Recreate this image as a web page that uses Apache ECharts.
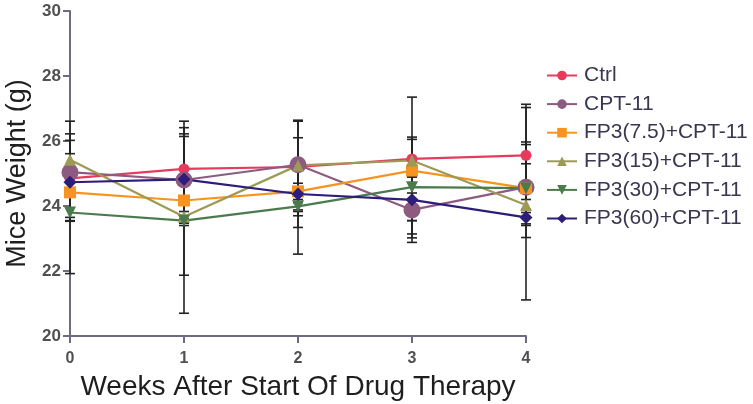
<!DOCTYPE html>
<html lang="en">
<head>
    <meta charset="UTF-8">
    <title>mice weight</title>
    <script src="https://cdn.jsdelivr.net/npm/echarts@6/dist/echarts.min.js"></script>
    <style>
        body{ margin:0; background:#fff; }
        .box{ width:753px; height:404px; }
    </style>
</head>
<body>
    <div class="box"></div>
    <script>
        var weeks = [0, 1, 2, 3, 4]
        var names = ['Ctrl', 'CPT-11', 'FP3(7.5)+CPT-11', 'FP3(15)+CPT-11', 'FP3(30)+CPT-11', 'FP3(60)+CPT-11']

        // mean weight per week
        var ctrl  = [24.85, 25.14, 25.20, 25.45, 25.56]
        var cpt   = [25.04, 24.80, 25.27, 23.88, 24.58]
        var fp7   = [24.42, 24.17, 24.45, 25.09, 24.55]
        var fp15  = [25.42, 23.67, 25.25, 25.40, 24.03]
        var fp30  = [23.80, 23.55, 23.99, 24.58, 24.55]
        var fp60  = [24.73, 24.82, 24.37, 24.19, 23.65]

        // error bar ends (low / high)
        var ctrlLo = [23.53, 23.47, 23.83, 23.55, 25.30]
        var ctrlHi = [26.22, 26.61, 26.61, 27.35, 27.13]
        var cptLo  = [23.65, 21.87, 23.70, 23.55, 21.11]
        var cptHi  = [26.61, 26.41, 26.64, 24.20, 27.03]
        var fp7Lo  = [21.92, 20.70, 22.52, 24.89, 23.03]
        var fp7Hi  = [26.02, 26.14, 24.70, 26.05, 25.97]
        var fp15Lo = [25.23, 23.50, 23.34, 23.02, 23.80]
        var fp15Hi = [25.61, 23.83, 26.10, 26.12, 24.20]
        var fp30Lo = [23.55, 23.40, 23.88, 23.14, 23.45]
        var fp30Hi = [24.29, 23.60, 24.10, 24.90, 25.89]
        var fp60Lo = [24.50, 23.55, 24.20, 22.88, 23.40]
        var fp60Hi = [24.95, 26.22, 24.50, 24.40, 23.90]

        var yTicks = [20, 22, 24, 26, 28, 30]

        var means = [ctrl, cpt, fp7, fp15, fp30, fp60]
        var lows = [ctrlLo, cptLo, fp7Lo, fp15Lo, fp30Lo, fp60Lo]
        var highs = [ctrlHi, cptHi, fp7Hi, fp15Hi, fp30Hi, fp60Hi]
        var colors = ['#e83a5c', '#8d5b80', '#f7941f', '#9c9a55', '#4b7a4c', '#2e1c7a']
        var symbols = ['circle', 'circle', 'rect', 'triangle', 'triangle', 'diamond']
        var sizes = [11, 17, 12, 12, 12, 13]
        var rotates = [0, 0, 0, 0, 180, 0]

        var errData = []
        for (var s = 0; s < means.length; s++) {
            for (var i = 0; i < weeks.length; i++) {
                errData.push([weeks[i], lows[s][i], highs[s][i]])
            }
        }

        var series = [{
            type: 'custom',
            z: 1,
            silent: true,
            data: errData,
            renderItem: function (params, api) {
                var top = api.coord([api.value(0), api.value(2)])
                var bot = api.coord([api.value(0), api.value(1)])
                var w = 5
                var st = { stroke: '#222', lineWidth: 1.6 }
                return {
                    type: 'group',
                    children: [
                        { type: 'line', shape: { x1: top[0], y1: top[1], x2: bot[0], y2: bot[1] }, style: st },
                        { type: 'line', shape: { x1: top[0] - w, y1: top[1], x2: top[0] + w, y2: top[1] }, style: st },
                        { type: 'line', shape: { x1: bot[0] - w, y1: bot[1], x2: bot[0] + w, y2: bot[1] }, style: st }
                    ]
                }
            }
        }]

        for (var k = 0; k < means.length; k++) {
            series.push({
                name: names[k],
                type: 'line',
                z: 3,
                data: weeks.map(function (w, i) { return [w, means[k][i]] }),
                symbol: symbols[k],
                symbolSize: sizes[k],
                symbolRotate: rotates[k],
                showAllSymbol: true,
                lineStyle: { color: colors[k], width: 2.2 },
                itemStyle: { color: colors[k], opacity: 1 },
                emphasis: { disabled: true }
            })
        }

        var axisColor = '#6e6a82'
        var option = {
            animation: false,
            grid: { left: 70, right: 227, top: 11, bottom: 68, outerBoundsMode: 'none', containLabel: false },
            legend: {
                orient: 'vertical',
                left: 541,
                top: 60,
                itemGap: 7.6,
                itemWidth: 30,
                itemHeight: 12,
                textStyle: { fontSize: 21, color: '#3b3650', fontFamily: 'Liberation Sans', padding: [0, 0, 0, 2] },
                data: names
            },
            xAxis: {
                type: 'value',
                min: 0,
                max: 4,
                interval: 1,
                name: 'Weeks After Start Of Drug Therapy',
                nameLocation: 'middle',
                nameGap: 37,
                nameTextStyle: { fontSize: 28, color: '#1e1e1e', fontFamily: 'Liberation Sans' },
                axisLine: { lineStyle: { color: axisColor, width: 2 } },
                axisTick: { inside: false, length: 7, lineStyle: { color: axisColor, width: 2 } },
                axisLabel: { fontSize: 16, fontWeight: 'bold', color: '#505050', margin: 15, fontFamily: 'Liberation Sans' },
                splitLine: { show: false }
            },
            yAxis: {
                type: 'value',
                min: 20,
                max: 30,
                interval: 2,
                name: 'Mice Weight (g)',
                nameLocation: 'middle',
                nameGap: 38,
                nameTextStyle: { fontSize: 27, color: '#1e1e1e', fontFamily: 'Liberation Sans' },
                axisLine: { show: true, lineStyle: { color: axisColor, width: 2 } },
                axisTick: { show: true, inside: false, length: 7, lineStyle: { color: axisColor, width: 2 } },
                axisLabel: {
                    fontSize: 17, fontWeight: 'bold', color: '#505050', margin: 9, fontFamily: 'Liberation Sans',
                    formatter: function (v) { return yTicks.indexOf(v) >= 0 ? v : '' }
                },
                splitLine: { show: false }
            },
            series: series
        }

        var chart = echarts.init(document.querySelector('.box'))
        chart.setOption(option)
    </script>
</body>
</html>
